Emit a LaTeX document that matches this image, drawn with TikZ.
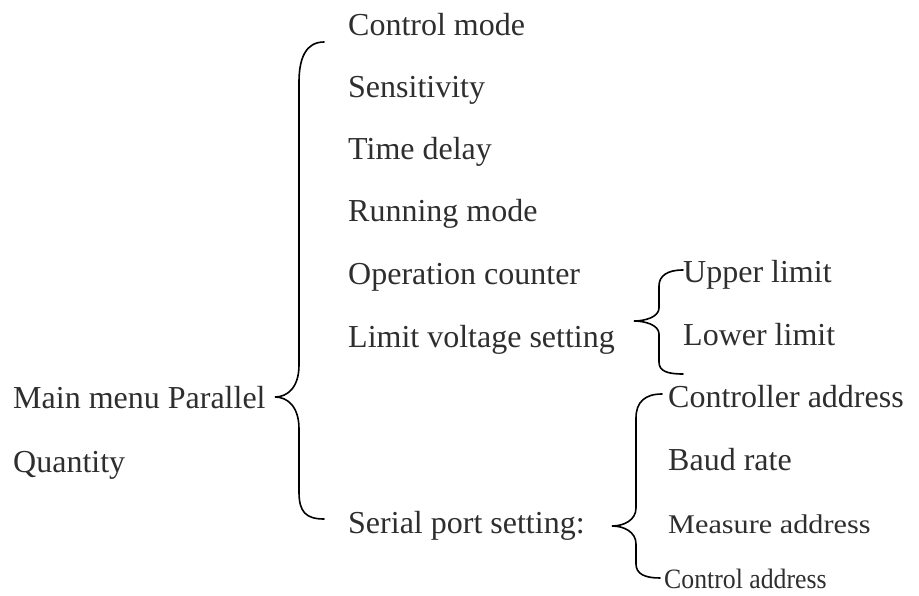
\documentclass[tikz,border=0pt]{standalone}
\usepackage{fontspec}
\setmainfont{Liberation Serif}
\begin{document}
\begin{tikzpicture}[x=1pt,y=-1pt,
  txt/.style={anchor=base west,inner sep=0pt,font=\fontsize{32}{38}\selectfont,text=black!82},
  smalltxt/.style={anchor=base west,inner sep=0pt,font=\fontsize{27}{32}\selectfont,text=black!82},
  brace/.style={line width=1.6pt,line cap=round,draw=black}]
\useasboundingbox (0,0) rectangle (919,596);
% first level
\node[txt] (main) at (13,408) {Main menu Parallel};
\node[txt] (qty) at (13,472) {Quantity};
% second level
\node[txt] (cm) at (348,36) {Control mode};
\node[txt] (sens) at (348,98) {Sensitivity};
\node[txt] (td) at (348,160) {Time delay};
\node[txt] (rm) at (348,222) {Running mode};
\node[txt] (oc) at (348,285) {Operation counter};
\node[txt] (lv) at (348,347) {Limit voltage setting};
\node[txt] (sp) at (348,533) {Serial port setting:};
% third level
\node[txt] (ul) at (683,283) {Upper limit};
\node[txt] (ll) at (683,345) {Lower limit};
\node[txt] (ca) at (668,407) {Controller address};
\node[txt] (br) at (668,470) {Baud rate};
\node[smalltxt] (ma) at (668,533) {\scalebox{1.12}[1]{Measure address}};
\node[smalltxt,font=\fontsize{28}{33}\selectfont] (cta) at (664,588) {\scalebox{0.92}[1]{Control address}};
% brace anchors
\coordinate (b1top) at (324,42);
\coordinate (b1tip) at (275,397);
\coordinate (b1bot) at (324,519);
\coordinate (b2top) at (683,270);
\coordinate (b2tip) at (634,321);
\coordinate (b2bot) at (683,374);
\coordinate (b3top) at (662,394);
\coordinate (b3tip) at (612,526);
\coordinate (b3bot) at (660,578);
% big brace
\draw[brace] (b1top) .. controls (306,42) and (299,58) .. (299,82) -- (299,365)
  .. controls (299,388) and (287,397) .. (b1tip)
  .. controls (287,397) and (299,406) .. (299,429) -- (299,492)
  .. controls (299,512) and (306,519) .. (b1bot);
% limit voltage brace
\draw[brace] (b2top) .. controls (667,270) and (659,276) .. (659,286) -- (659,308)
  .. controls (659,317) and (645,321) .. (b2tip)
  .. controls (645,321) and (659,325) .. (659,334) -- (659,362)
  .. controls (659,371) and (667,374) .. (b2bot);
% serial port brace
\draw[brace] (b3top) .. controls (645,394) and (636,402) .. (636,418) -- (636,508)
  .. controls (636,520) and (624,526) .. (b3tip)
  .. controls (624,526) and (636,532) .. (636,544) -- (636,564)
  .. controls (636,574) and (645,578) .. (b3bot);
\end{tikzpicture}
\end{document}
